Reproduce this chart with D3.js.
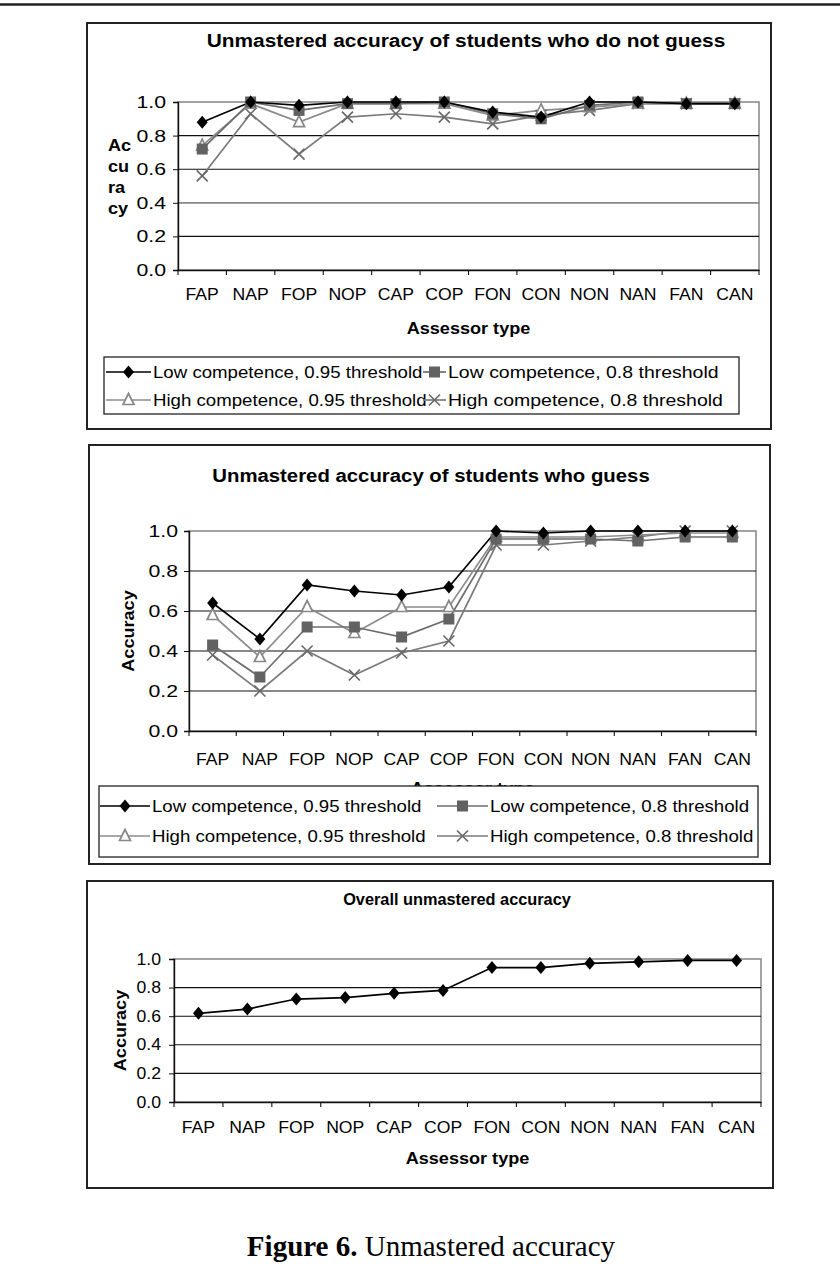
<!DOCTYPE html>
<html><head><meta charset="utf-8">
<script src="https://cdn.jsdelivr.net/npm/d3@7"></script>
<style>body{margin:0;background:#fff}svg{display:block}</style>
</head><body><svg id="c" width="840" height="1274"></svg>
<script>
const categories = ["FAP","NAP","FOP","NOP","CAP","COP","FON","CON","NON","NAN","FAN","CAN"];
const yTicks = [0, 0.2, 0.4, 0.6, 0.8, 1.0];
const seriesNames = ["Low competence, 0.95 threshold","Low competence, 0.8 threshold","High competence, 0.95 threshold","High competence, 0.8 threshold"];

// Chart 1: students who do not guess
const noGuessLow95  = [0.88,1.00,0.98,1.00,1.00,1.00,0.94,0.91,1.00,1.00,0.99,0.99];
const noGuessLow80  = [0.72,1.00,0.95,0.99,0.99,1.00,0.93,0.90,0.98,1.00,0.99,0.99];
const noGuessHigh95 = [0.74,0.99,0.88,0.99,0.99,0.99,0.92,0.95,0.97,0.99,0.99,0.99];
const noGuessHigh80 = [0.56,0.93,0.69,0.91,0.93,0.91,0.87,0.92,0.95,0.99,0.99,0.99];

// Chart 2: students who guess
const guessLow95  = [0.64,0.46,0.73,0.70,0.68,0.72,1.00,0.99,1.00,1.00,1.00,1.00];
const guessLow80  = [0.43,0.27,0.52,0.52,0.47,0.56,0.96,0.96,0.96,0.95,0.97,0.97];
const guessHigh95 = [0.58,0.37,0.62,0.49,0.62,0.62,0.97,0.97,0.97,0.98,0.99,0.99];
const guessHigh80 = [0.38,0.20,0.40,0.28,0.39,0.45,0.93,0.93,0.95,0.97,1.00,1.00];

// Chart 3: overall
const overall = [0.62,0.65,0.72,0.73,0.76,0.78,0.94,0.94,0.97,0.98,0.99,0.99];

const FONT = "'Liberation Sans', Arial, sans-serif";
const styles = [
  {line:"#000", marker:"diamond", fill:"#000", stroke:"#000"},
  {line:"#6e6e6e", marker:"square", fill:"#626262", stroke:"#626262"},
  {line:"#8c8c8c", marker:"triangle", fill:"#fff", stroke:"#888"},
  {line:"#7a7a7a", marker:"x", fill:"none", stroke:"#6a6a6a"}
];

const svg = d3.select("#c");
svg.append("line").attr("x1",0).attr("x2",840).attr("y1",4.5).attr("y2",4.5)
  .attr("stroke","#222").attr("stroke-width",2.5);

function stretch(sel, k) {
  sel.each(function(){
    const len = this.getComputedTextLength();
    d3.select(this).attr("textLength", len*k).attr("lengthAdjust","spacingAndGlyphs");
  });
}

function drawMarker(g, type, x, y, st) {
  if (type === "diamond") {
    g.append("path").attr("d", `M${x},${y-6.5}L${x+5.5},${y}L${x},${y+6.5}L${x-5.5},${y}Z`).attr("fill", st.fill);
  } else if (type === "square") {
    g.append("rect").attr("x", x-5.5).attr("y", y-5.5).attr("width",11).attr("height",11).attr("fill", st.fill);
  } else if (type === "triangle") {
    g.append("path").attr("d", `M${x},${y-6.5}L${x+5.5},${y+4.5}L${x-5.5},${y+4.5}Z`)
      .attr("fill", st.fill).attr("stroke", st.stroke).attr("stroke-width",1.7);
  } else if (type === "x") {
    g.append("path").attr("d", `M${x-5.5},${y-5.5}L${x+5.5},${y+5.5}M${x+5.5},${y-5.5}L${x-5.5},${y+5.5}`)
      .attr("stroke", st.stroke).attr("stroke-width",1.7).attr("fill","none");
  }
}

function drawChart(cfg) {
  const g = svg.append("g");
  g.append("rect").attr("x",cfg.box.x).attr("y",cfg.box.y).attr("width",cfg.box.w).attr("height",cfg.box.h)
    .attr("fill","#fff").attr("stroke","#222").attr("stroke-width",2);
  const x = d3.scaleBand().domain(categories).range([cfg.plot.l, cfg.plot.r]);
  const y = d3.scaleLinear().domain([0,1]).range([cfg.plot.b, cfg.plot.t]);

  g.append("rect").attr("x",cfg.plot.l).attr("y",cfg.plot.t).attr("width",cfg.plot.r-cfg.plot.l)
    .attr("height",cfg.plot.b-cfg.plot.t).attr("fill","none").attr("stroke","#8c8c8c").attr("stroke-width",1.6);
  g.selectAll(null).data(yTicks.filter(d=>d>0 && d<1)).join("line")
    .attr("x1",cfg.plot.l).attr("x2",cfg.plot.r).attr("y1",d=>y(d)).attr("y2",d=>y(d))
    .attr("stroke",d=>cfg.grayGrid===d ? "#8a8a8a" : "#111")
    .attr("stroke-width",d=>cfg.grayGrid===d ? 1.7 : 1.1);

  const ya = g.append("g").attr("transform",`translate(${cfg.plot.l},0)`)
    .call(d3.axisLeft(y).tickValues(yTicks).tickFormat(d3.format(".1f")).tickSize(5).tickPadding(cfg.ypad));
  ya.select(".domain").attr("stroke","#111").attr("stroke-width",1.4);
  ya.selectAll(".tick line").attr("stroke","#111");
  ya.selectAll("text").attr("font-family",FONT).attr("font-size",cfg.yfs).attr("fill","#000").call(stretch,cfg.ysx);

  const xa = g.append("g").attr("transform",`translate(0,${cfg.plot.b})`)
    .call(d3.axisBottom(x).tickSize(0).tickPadding(cfg.xpad));
  xa.select(".domain").attr("stroke","#111").attr("stroke-width",1.4);
  xa.selectAll("text").attr("font-family",FONT).attr("font-size",16).attr("fill","#000").call(stretch,1.1);
  const edges = categories.map(c=>x(c)).concat([cfg.plot.r]);
  g.selectAll(null).data(edges).join("line")
    .attr("x1",d=>d).attr("x2",d=>d).attr("y1",cfg.plot.b).attr("y2",cfg.plot.b+5)
    .attr("stroke","#111").attr("stroke-width",1.1);

  g.append("text").attr("x",cfg.titleX).attr("y",cfg.titleY).attr("text-anchor","middle")
    .attr("font-family",FONT).attr("font-weight","bold").attr("font-size",cfg.tfs).text(cfg.title).call(stretch,cfg.tsx);

  if (cfg.yStack) {
    cfg.yStack.forEach((t,i)=>{
      g.append("text").attr("x",cfg.yTitleX).attr("y",cfg.yStackY[i])
        .attr("font-family",FONT).attr("font-weight","bold").attr("font-size",16).text(t).call(stretch,1.13);
    });
  } else {
    g.append("text").attr("transform",`translate(${cfg.yTitleX},${(cfg.plot.t+cfg.plot.b)/2}) rotate(-90)`)
      .attr("text-anchor","middle").attr("font-family",FONT).attr("font-weight","bold")
      .attr("font-size",16).text("Accuracy").call(stretch,1.13);
  }
  g.append("text").attr("x",(cfg.plot.l+cfg.plot.r)/2).attr("y",cfg.xTitleY).attr("text-anchor","middle")
    .attr("font-family",FONT).attr("font-weight","bold").attr("font-size",16).text("Assessor type").call(stretch,1.13);

  const line = d3.line().x((d,i)=>x(categories[i])+x.bandwidth()/2).y(d=>y(d));
  const order = cfg.series.map((s,i)=>i).reverse();
  order.forEach(i=>{
    g.append("path").datum(cfg.series[i]).attr("d",line).attr("fill","none")
      .attr("stroke",styles[i].line).attr("stroke-width",1.7);
  });
  order.forEach(i=>{
    cfg.series[i].forEach((v,j)=>drawMarker(g, styles[i].marker, x(categories[j])+x.bandwidth()/2, y(v), styles[i]));
  });

  if (cfg.legend) {
    const L = cfg.legend;
    g.append("rect").attr("x",L.x).attr("y",L.y).attr("width",L.w).attr("height",L.h)
      .attr("fill","#fff").attr("stroke","#222").attr("stroke-width",1.3);
    seriesNames.forEach((name,i)=>{
      const col = i%2, row = Math.floor(i/2);
      const cy = L.rows[row];
      const [a,b] = L.lines[col];
      g.append("line").attr("x1",a).attr("x2",b).attr("y1",cy).attr("y2",cy)
        .attr("stroke",styles[i].line).attr("stroke-width",1.7);
      drawMarker(g, styles[i].marker, (a+b)/2, cy, styles[i]);
      g.append("text").attr("x",L.tx[col]).attr("y",cy+6).attr("font-family",FONT)
        .attr("font-size",16.5).text(name).call(stretch,L.sx[col]);
    });
  }
}

drawChart({
  box:{x:87,y:23,w:684,h:406}, plot:{l:178,r:759,t:102,b:270}, grayGrid:0.4,
  title:"Unmastered accuracy of students who do not guess", titleX:466, titleY:47, tfs:18, tsx:1.16,
  yfs:17, ysx:1.25, ypad:7, xpad:19, xTitleY:334,
  yStack:["Ac","cu","ra","cy"], yTitleX:108, yStackY:[151,172,193,214],
  series:[noGuessLow95,noGuessLow80,noGuessHigh95,noGuessHigh80],
  legend:{x:104,y:357,w:635,h:57, rows:[372,400], lines:[[106,151],[423,446]], tx:[153,448], sx:[1.13,1.18]}
});

drawChart({
  box:{x:89,y:445,w:681,h:419}, plot:{l:189,r:756,t:531,b:731},
  title:"Unmastered accuracy of students who guess", titleX:431, titleY:482, tfs:18, tsx:1.13,
  yfs:17, ysx:1.25, ypad:6, xpad:23, xTitleY:794,
  yTitleX:134,
  series:[guessLow95,guessLow80,guessHigh95,guessHigh80],
  legend:{x:99,y:786,w:659,h:71, rows:[806,836], lines:[[100,150],[437,488]], tx:[152,490], sx:[1.13,1.13]}
});

drawChart({
  box:{x:87,y:881,w:686,h:307}, plot:{l:174,r:761,t:959,b:1102},
  title:"Overall unmastered accuracy", titleX:457, titleY:905, tfs:16, tsx:1.02,
  yfs:16, ysx:1.1, ypad:8, xpad:20, xTitleY:1164,
  yTitleX:126,
  series:[overall]
});

const cap = svg.append("text").attr("x",431).attr("y",1256).attr("text-anchor","middle")
  .attr("font-family","'Liberation Serif','Times New Roman',serif").attr("font-size",29);
cap.append("tspan").attr("font-weight","bold").text("Figure 6.");
cap.append("tspan").text(" Unmastered accuracy");
</script></body></html>
